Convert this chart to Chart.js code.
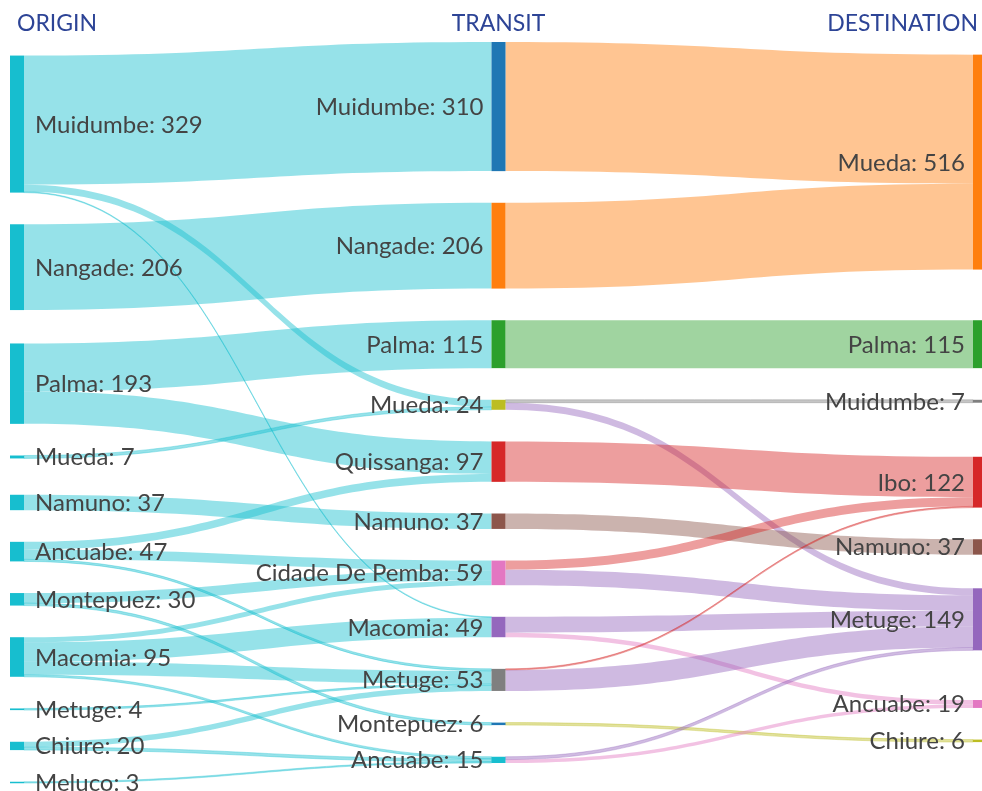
<!DOCTYPE html>
<html>
<head>
<title>Displacement Flows</title>
<script src="https://cdn.jsdelivr.net/npm/chart.js"></script>
<style>
body {
  margin: 0;
  background: #fff;
}
#wrap {
  position: relative;
  width: 982px;
  height: 791px;
}
</style>
</head>
<body>
<div id="wrap"><canvas id="chart"></canvas></div>

<script>
// nodes, one list per column
const originNodes = ['Muidumbe', 'Nangade', 'Palma', 'Mueda', 'Namuno', 'Ancuabe', 'Montepuez', 'Macomia', 'Metuge', 'Chiure', 'Meluco'];
const transitNodes = ['Muidumbe', 'Nangade', 'Palma', 'Mueda', 'Quissanga', 'Namuno', 'Cidade De Pemba', 'Macomia', 'Metuge', 'Montepuez', 'Ancuabe'];
const destinationNodes = ['Mueda', 'Palma', 'Muidumbe', 'Ibo', 'Namuno', 'Metuge', 'Ancuabe', 'Chiure'];
const columnTitles = ['ORIGIN', 'TRANSIT', 'DESTINATION'];

// origin -> transit
const stage1From  = ['Muidumbe', 'Muidumbe', 'Muidumbe', 'Nangade', 'Palma', 'Palma', 'Mueda', 'Namuno', 'Ancuabe', 'Ancuabe', 'Ancuabe', 'Montepuez', 'Montepuez', 'Macomia', 'Macomia', 'Macomia', 'Macomia', 'Metuge', 'Chiure', 'Chiure', 'Meluco'];
const stage1To    = ['Muidumbe', 'Mueda', 'Macomia', 'Nangade', 'Palma', 'Quissanga', 'Mueda', 'Namuno', 'Quissanga', 'Cidade De Pemba', 'Metuge', 'Cidade De Pemba', 'Montepuez', 'Cidade De Pemba', 'Macomia', 'Metuge', 'Ancuabe', 'Metuge', 'Metuge', 'Ancuabe', 'Ancuabe'];
const stage1Value = [310, 17, 2, 206, 115, 78, 7, 37, 19, 23, 5, 24, 6, 12, 47, 31, 5, 4, 13, 7, 3];

// transit -> destination
const stage2From  = ['Muidumbe', 'Nangade', 'Palma', 'Mueda', 'Mueda', 'Quissanga', 'Namuno', 'Cidade De Pemba', 'Cidade De Pemba', 'Macomia', 'Macomia', 'Metuge', 'Metuge', 'Montepuez', 'Ancuabe', 'Ancuabe'];
const stage2To    = ['Mueda', 'Mueda', 'Palma', 'Muidumbe', 'Metuge', 'Ibo', 'Namuno', 'Ibo', 'Metuge', 'Metuge', 'Ancuabe', 'Ibo', 'Metuge', 'Chiure', 'Metuge', 'Ancuabe'];
const stage2Value = [310, 206, 115, 7, 17, 97, 37, 22, 37, 38, 11, 3, 50, 6, 7, 8];

// colours
const originColors = originNodes.map(() => '#17becf');
const transitColors = ['#1f77b4', '#ff7f0e', '#2ca02c', '#bcbd22', '#d62728', '#8c564b', '#e377c2', '#9467bd', '#7f7f7f', '#1f77b4', '#17becf'];
const destinationColors = ['#ff7f0e', '#2ca02c', '#7f7f7f', '#d62728', '#8c564b', '#9467bd', '#e377c2', '#bcbd22'];
const LINK_ALPHA = 0.45;

// layout settings (y in value units)
const Y_MAX = 1779;
const NODE_PAD = 76;
const NODE_WIDTH = 14;
const ITERATIONS = 6;

const sum = arr => arr.reduce((s, l) => s + l.value, 0);
const byY = (a, b) => a.y0 - b.y0;
const bySource = (a, b) => byY(a.source, b.source) || a.index - b.index;
const byTarget = (a, b) => byY(a.target, b.target) || a.index - b.index;

// d3-sankey style layout, keeping the given node order in every column
function computeSankey() {
  const nodes = [];
  const lists = [originNodes, transitNodes, destinationNodes];
  const colors = [originColors, transitColors, destinationColors];
  const columns = lists.map((names, col) => names.map((name, i) => {
    const n = { name, col, index: nodes.length, color: colors[col][i], sourceLinks: [], targetLinks: [] };
    nodes.push(n);
    return n;
  }));
  const find = (col, name) => columns[col].find(n => n.name === name);

  const links = [];
  const addStage = (col, from, to, values) => from.forEach((f, i) => {
    const link = { source: find(col, f), target: find(col + 1, to[i]), value: values[i], index: links.length };
    link.width = link.value;
    link.color = col === 0 ? link.source.color : link.target.color;
    link.source.sourceLinks.push(link);
    link.target.targetLinks.push(link);
    links.push(link);
  });
  addStage(0, stage1From, stage1To, stage1Value);
  addStage(1, stage2From, stage2To, stage2Value);
  nodes.forEach(n => { n.value = Math.max(sum(n.sourceLinks), sum(n.targetLinks)); });

  const reorderLinks = col => col.forEach(n => {
    n.sourceLinks.sort(byTarget);
    n.targetLinks.sort(bySource);
  });
  const reorderNodeLinks = n => {
    n.targetLinks.forEach(l => l.source.sourceLinks.sort(byTarget));
    n.sourceLinks.forEach(l => l.target.targetLinks.sort(bySource));
  };

  function pushDown(col, y, i, a) {
    for (; i < col.length; ++i) {
      const n = col[i];
      const dy = (y - n.y0) * a;
      if (dy > 1e-6) { n.y0 += dy; n.y1 += dy; }
      y = n.y1 + NODE_PAD;
    }
  }
  function pushUp(col, y, i, a) {
    for (; i >= 0; --i) {
      const n = col[i];
      const dy = (n.y1 - y) * a;
      if (dy > 1e-6) { n.y0 -= dy; n.y1 -= dy; }
      y = n.y0 - NODE_PAD;
    }
  }
  function resolveCollisions(col, a) {
    const i = col.length >> 1;
    const subject = col[i];
    pushUp(col, subject.y0 - NODE_PAD, i - 1, a);
    pushDown(col, subject.y1 + NODE_PAD, i + 1, a);
    pushUp(col, Y_MAX, col.length - 1, a);
    pushDown(col, 0, 0, a);
  }
  // top-down settle used for the outer columns at the end
  function settle(col) {
    pushDown(col, 0, 0, 1);
    pushUp(col, Y_MAX, col.length - 1, 1);
  }

  function targetTop(source, target) {
    let y = source.y0 - (source.sourceLinks.length - 1) * NODE_PAD / 2;
    for (const l of source.sourceLinks) { if (l.target === target) break; y += l.width + NODE_PAD; }
    for (const l of target.targetLinks) { if (l.source === source) break; y -= l.width; }
    return y;
  }
  function sourceTop(source, target) {
    let y = target.y0 - (target.targetLinks.length - 1) * NODE_PAD / 2;
    for (const l of target.targetLinks) { if (l.source === source) break; y += l.width + NODE_PAD; }
    for (const l of source.sourceLinks) { if (l.target === target) break; y -= l.width; }
    return y;
  }
  function relaxRight(col, alpha) {
    col.forEach(n => {
      let y = 0, w = 0;
      n.targetLinks.forEach(l => { y += targetTop(l.source, n) * l.value; w += l.value; });
      if (!(w > 0)) return;
      const dy = (y / w - n.y0) * alpha;
      n.y0 += dy; n.y1 += dy;
      reorderNodeLinks(n);
    });
  }
  function relaxLeft(col, alpha) {
    col.forEach(n => {
      let y = 0, w = 0;
      n.sourceLinks.forEach(l => { y += sourceTop(n, l.target) * l.value; w += l.value; });
      if (!(w > 0)) return;
      const dy = (y / w - n.y0) * alpha;
      n.y0 += dy; n.y1 += dy;
      reorderNodeLinks(n);
    });
  }

  // initial stacking
  columns.forEach(col => {
    let y = 0;
    col.forEach(n => { n.y0 = y; n.y1 = y + n.value; y = n.y1 + NODE_PAD; });
    const shift = (Y_MAX - y + NODE_PAD) / (col.length + 1);
    col.forEach((n, i) => { n.y0 += shift * (i + 1); n.y1 += shift * (i + 1); });
    reorderLinks(col);
  });

  for (let it = 0; it < ITERATIONS; it++) {
    const alpha = Math.pow(0.99, it);
    const beta = Math.max(1 - alpha, (it + 1) / ITERATIONS);
    for (let c = columns.length - 2; c >= 0; --c) {
      relaxLeft(columns[c], alpha);
      resolveCollisions(columns[c], beta);
    }
    for (let c = 1; c < columns.length; ++c) {
      relaxRight(columns[c], alpha);
      resolveCollisions(columns[c], beta);
    }
  }

  // final pass on the outer columns against the settled middle one
  const last = columns[columns.length - 1];
  relaxRight(last, 1);
  settle(last);
  relaxLeft(columns[0], 1);
  settle(columns[0]);
  columns.forEach(reorderLinks);

  nodes.forEach(n => {
    let a = n.y0, b = n.y0;
    n.sourceLinks.forEach(l => { l.y0 = a + l.width / 2; a += l.width; });
    n.targetLinks.forEach(l => { l.y1 = b + l.width / 2; b += l.width; });
  });
  return { nodes, links };
}

const graph = computeSankey();

function rgba(hex, a) {
  const v = parseInt(hex.slice(1), 16);
  return `rgba(${v >> 16}, ${(v >> 8) & 255}, ${v & 255}, ${a})`;
}

const sankeyPlugin = {
  id: 'sankey',
  afterDraw(chart) {
    const { ctx } = chart;
    const x = chart.scales.x;
    const y = chart.scales.y;
    ctx.save();

    // links
    graph.links.forEach(l => {
      const x0 = x.getPixelForValue(l.source.col) + NODE_WIDTH;
      const x1 = x.getPixelForValue(l.target.col);
      const xm = (x0 + x1) / 2;
      const a0 = y.getPixelForValue(l.y0 - l.width / 2);
      const b0 = y.getPixelForValue(l.y0 + l.width / 2);
      const a1 = y.getPixelForValue(l.y1 - l.width / 2);
      const b1 = y.getPixelForValue(l.y1 + l.width / 2);
      ctx.fillStyle = rgba(l.color, LINK_ALPHA);
      ctx.strokeStyle = rgba(l.color, LINK_ALPHA);
      ctx.lineWidth = 0.8;
      ctx.beginPath();
      ctx.moveTo(x0, a0);
      ctx.bezierCurveTo(xm, a0, xm, a1, x1, a1);
      ctx.lineTo(x1, b1);
      ctx.bezierCurveTo(xm, b1, xm, b0, x0, b0);
      ctx.closePath();
      ctx.fill();
      if (l.width < 8) ctx.stroke();
    });

    // nodes
    graph.nodes.forEach(n => {
      const px = x.getPixelForValue(n.col);
      const top = y.getPixelForValue(n.y0);
      const bottom = y.getPixelForValue(n.y1);
      ctx.fillStyle = n.color;
      ctx.fillRect(px, top, NODE_WIDTH, Math.max(bottom - top, 1.5));
    });

    // labels
    ctx.font = '24px Lato';
    ctx.fillStyle = '#444444';
    ctx.textBaseline = 'alphabetic';
    graph.nodes.forEach(n => {
      const px = x.getPixelForValue(n.col);
      const mid = (y.getPixelForValue(n.y0) + y.getPixelForValue(n.y1)) / 2;
      const text = `${n.name}: ${n.value}`;
      if (n.col === 0) {
        ctx.textAlign = 'left';
        ctx.fillText(text, px + NODE_WIDTH + 11, mid + 8.5);
      } else {
        ctx.textAlign = 'right';
        ctx.fillText(text, px - 8, mid + 8.5);
      }
    });

    // column titles
    ctx.font = '23px Lato';
    ctx.fillStyle = '#2d4496';
    ['left', 'center', 'right'].forEach((align, i) => {
      const px = x.getPixelForValue(i);
      ctx.textAlign = align;
      const tx = i === 0 ? px + 7 : i === 1 ? px + NODE_WIDTH / 2 : px + 5;
      ctx.fillText(columnTitles[i], tx, 31);
    });
    ctx.restore();
  }
};

new Chart(document.getElementById('chart'), {
  type: 'scatter',
  data: { datasets: [] },
  options: {
    responsive: true,
    maintainAspectRatio: false,
    animation: false,
    layout: { padding: { top: 42, bottom: 8, left: 10, right: 9 } },
    scales: {
      x: { type: 'linear', min: 0, max: 2, display: false },
      y: { type: 'linear', min: 0, max: Y_MAX, reverse: true, display: false }
    },
    plugins: {
      legend: { display: false },
      tooltip: { enabled: false }
    }
  },
  plugins: [sankeyPlugin]
});
</script>
</body>
</html>
